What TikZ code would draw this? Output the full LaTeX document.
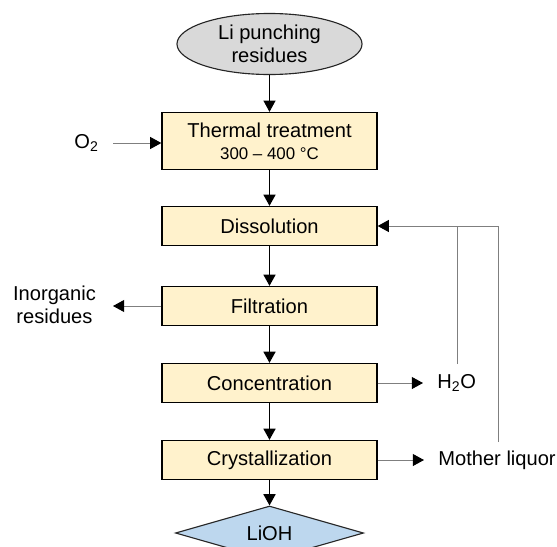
\documentclass[tikz,border=0pt]{standalone}
\usepackage{fontspec}
\setmainfont{Liberation Sans}
\usetikzlibrary{shapes.geometric,arrows.meta}

\definecolor{boxfill}{HTML}{FFF2CC}
\definecolor{startgray}{HTML}{D9D9D9}
\definecolor{endblue}{HTML}{BDD7EE}
\definecolor{linegray}{HTML}{7F7F7F}

\tikzset{
	stepbox/.style={draw,line width=0.9pt,fill=boxfill,minimum width=5.375cm,minimum height=0.975cm,inner sep=0pt,align=center},
	sidetext/.style={inner xsep=10pt,inner ysep=2pt,align=center},
	mainflow/.style={line width=1.1pt,-{Triangle[length=2.8mm,width=3mm]}},
	thinflow/.style={line width=0.6pt,-{Triangle[length=2.8mm,width=3mm]}},
	sideflow/.style={draw=linegray,line width=0.7pt,-{Triangle[length=2.8mm,width=3mm,color=black]}},
	feedline/.style={draw=linegray,line width=0.7pt}
}

\begin{document}
\begin{tikzpicture}[x=0.025cm,y=-0.025cm,font=\fontsize{14.3}{16.5}\selectfont]
	\useasboundingbox (0,0) rectangle (557,546);

	% main chain
	\node[ellipse,draw=black!85,line width=0.8pt,fill=startgray,minimum width=4.625cm,minimum height=1.525cm,inner sep=0pt,align=center] (start) at (269.5,44) {Li punching\\residues};
	\node[stepbox,minimum height=1.425cm] (thermal) at (269.5,141) {Thermal treatment\\[-1pt]{\fontsize{12}{14}\selectfont 300 -- 400 °C}};
	\node[stepbox] (diss) at (269.5,226) {Dissolution};
	\node[stepbox] (filt) at (269.5,306) {Filtration};
	\node[stepbox] (conc) at (269.5,383) {Concentration};
	\node[stepbox] (cryst) at (269.5,460) {Crystallization};
	\node[diamond,aspect=3.5,draw=black!85,line width=0.8pt,fill=endblue,minimum width=4.7cm,minimum height=1.35cm,inner sep=0pt] (lioh) at (269.5,533) {LiOH};

	\draw[thinflow] (start) -- (thermal);
	\draw[mainflow] (thermal) -- (diss);
	\draw[mainflow] (diss) -- (filt);
	\draw[mainflow] (filt) -- (conc);
	\draw[mainflow] (conc) -- (cryst);
	\draw[mainflow] (cryst) -- (lioh);

	% side streams
	\node[sidetext,anchor=east] (oxy) at (113,143) {O\textsubscript{2}};
	\node[sidetext,inner xsep=12pt,anchor=east] (inorg) at (113,305) {Inorganic\\residues};
	\node[sidetext,anchor=west] (water) at (423,383) {H\textsubscript{2}O};
	\node[sidetext,anchor=west] (mother) at (424,460) {Mother liquor};

	\draw[sideflow] (oxy.east) -- (oxy.east -| thermal.west);
	\draw[sideflow] (filt.west) -- (filt.west -| inorg.east);
	\draw[sideflow] (conc.east) -- (conc.east -| water.west);
	\draw[sideflow] (cryst.east) -- (cryst.east -| mother.west);

	% recycle to dissolution
	\coordinate (waterup) at (457,364);
	\coordinate (motherup) at (498,442);
	\coordinate (loopcorner) at (498,226);
	\draw[feedline] (motherup) -- (loopcorner);
	\draw[feedline] (waterup) -- (waterup |- loopcorner);
	\draw[sideflow] (loopcorner) -- (diss.east);
\end{tikzpicture}
\end{document}
